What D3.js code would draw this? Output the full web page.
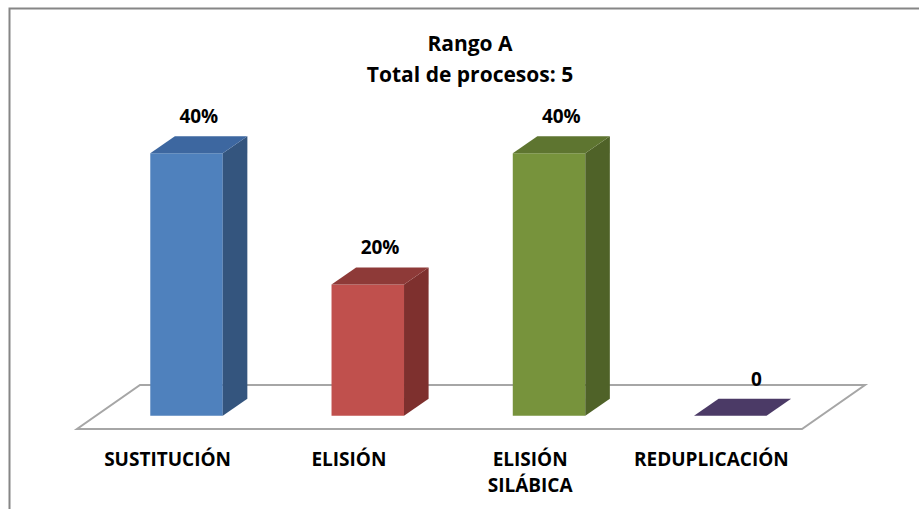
<!DOCTYPE html>
<html>
<head>
<meta charset="utf-8">
<script src="https://cdn.jsdelivr.net/npm/d3@7"></script>
<style>
  html, body { margin: 0; padding: 0; background: #fff; }
  svg { display: block; }
  text { font-family: "Open Sans", "Liberation Sans", sans-serif; font-weight: bold; fill: #000; }
</style>
</head>
<body>
<svg id="chart" width="919" height="509"></svg>
<script>
const titleLines = ["Rango A", "Total de procesos: 5"];
const categories = ["SUSTITUCIÓN", "ELISIÓN", "ELISIÓN\nSILÁBICA", "REDUPLICACIÓN"];
const values = [0.4, 0.2, 0.4, 0];
const valueLabels = ["40%", "20%", "40%", "0"];
const frontColors = ["#4F81BD", "#C0504D", "#77933C", "#4B3A66"];
const sideColors  = ["#34557E", "#7E302E", "#4F6228", "#3A2C50"];
const topColors   = ["#3D67A0", "#8E3A38", "#5E7530", "#47375E"];

const svg = d3.select("#chart");

// chart frame (extends beyond the window on right & bottom)
svg.append("rect")
  .attr("x", 9.5).attr("y", 8.5)
  .attr("width", 1000).attr("height", 600)
  .attr("fill", "#fff").attr("stroke", "#868686").attr("stroke-width", 2);

// 3D geometry
const floorFrontY = 429;
const depthDX = 63, depthDY = -44;   // full floor depth offset
const barZ0 = 0.30, barZ1 = 0.69;     // bar depth within floor

const x = d3.scaleBand().domain(categories).range([77, 802]).padding(0);
const barW = x.bandwidth() * 0.40;
const y = d3.scaleLinear().domain([0, 0.4]).range([0, 262.5]);

function P(px, v, z) {
  return [px + z * depthDX, floorFrontY + z * depthDY - y(v)];
}
const line = pts => "M" + pts.map(p => p.join(",")).join("L") + "Z";

// floor
const fx0 = x.range()[0], fx1 = x.range()[1];
svg.append("path")
  .attr("d", line([P(fx0, 0, 0), P(fx1, 0, 0), P(fx1, 0, 1), P(fx0, 0, 1)]))
  .attr("fill", "#fff").attr("stroke", "#A6A6A6").attr("stroke-width", 2)
  .attr("stroke-linejoin", "miter");

// bars
const g = svg.append("g");
categories.forEach((c, i) => {
  const cx = x(c) + x.bandwidth() / 2;
  const xl = cx - barW / 2, xr = cx + barW / 2;
  const v = values[i];
  const bar = g.append("g");
  if (v > 0) {
    bar.append("path")
      .attr("d", line([P(xl, 0, barZ0), P(xr, 0, barZ0), P(xr, v, barZ0), P(xl, v, barZ0)]))
      .attr("fill", frontColors[i]);
    bar.append("path")
      .attr("d", line([P(xr, 0, barZ0), P(xr, 0, barZ1), P(xr, v, barZ1), P(xr, v, barZ0)]))
      .attr("fill", sideColors[i]);
  }
  bar.append("path")
    .attr("d", line([P(xl, v, barZ0), P(xr, v, barZ0), P(xr, v, barZ1), P(xl, v, barZ1)]))
    .attr("fill", v > 0 ? topColors[i] : frontColors[i]);

  // value label
  const top = P(cx, v, (barZ0 + barZ1) / 2);
  const lx = v > 0 ? top[0] : top[0] + 14;
  svg.append("text")
    .attr("x", lx).attr("y", P(cx, v, barZ1)[1] - 13)
    .attr("text-anchor", "middle")
    .attr("font-size", 19)
    .text(valueLabels[i]);

  // category label
  const lines = c.split("\n");
  const t = svg.append("text")
    .attr("x", cx).attr("y", 466)
    .attr("text-anchor", "middle")
    .attr("font-size", 19);
  lines.forEach((ln, k) => {
    t.append("tspan").attr("x", cx).attr("dy", k === 0 ? 0 : 26).text(ln);
  });
});

// title
const title = svg.append("text")
  .attr("x", 470).attr("y", 51)
  .attr("text-anchor", "middle")
  .attr("font-size", 21);
titleLines.forEach((ln, k) => {
  title.append("tspan").attr("x", 470).attr("dy", k === 0 ? 0 : 31).text(ln);
});
</script>
</body>
</html>
